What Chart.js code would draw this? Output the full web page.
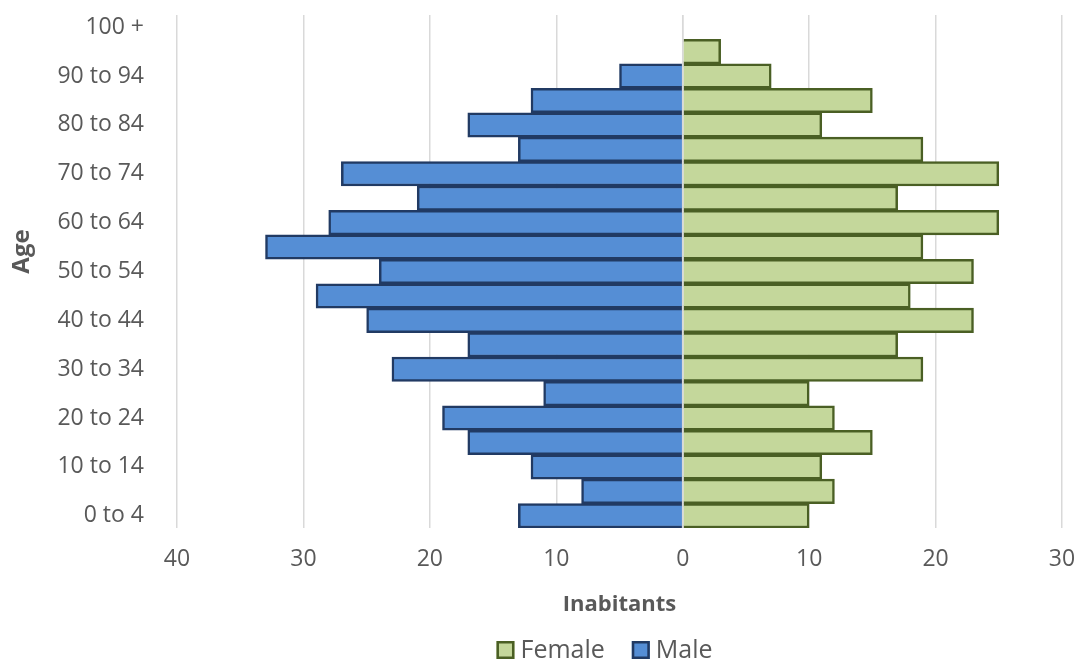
<!DOCTYPE html>
<html>
<head>
<meta charset="utf-8">
<script src="https://cdn.jsdelivr.net/npm/chart.js@4/dist/chart.umd.min.js"></script>
<style>
  html, body { margin: 0; padding: 0; background: #ffffff; }
  #wrap { width: 1076px; height: 660px; position: relative; }
</style>
</head>
<body>
<div id="wrap"><canvas id="pyramid"></canvas></div>
<script>
// Age groups, youngest first
const ageGroups = [
  '0 to 4', '5 to 9', '10 to 14', '15 to 19', '20 to 24', '25 to 29',
  '30 to 34', '35 to 39', '40 to 44', '45 to 49', '50 to 54', '55 to 59',
  '60 to 64', '65 to 69', '70 to 74', '75 to 79', '80 to 84', '85 to 89',
  '90 to 94', '95 to 99', '100 +'
];
// Inhabitants per age group
const femaleCounts = [10, 12, 11, 15, 12, 10, 19, 17, 23, 18, 23, 19, 25, 17, 25, 19, 11, 15, 7, 3, 0];
const maleCounts   = [13, 8, 12, 17, 19, 11, 23, 17, 25, 29, 24, 33, 28, 21, 27, 13, 17, 12, 5, 0, 0];
// Value axis ticks
const xTicks = [-40, -30, -20, -10, 0, 10, 20, 30];

const TEXT = '#595959';
const FONT = "'Open Sans', 'Liberation Sans', sans-serif";

// Thin light line along the zero value, drawn over the bars
const zeroLine = {
  id: 'zeroLine',
  afterDatasetsDraw(chart) {
    const x = chart.scales.x.getPixelForValue(0);
    const { top, bottom } = chart.chartArea;
    const ctx = chart.ctx;
    ctx.save();
    ctx.strokeStyle = '#d9d9d9';
    ctx.lineWidth = 1.5;
    ctx.beginPath();
    ctx.moveTo(x, top);
    ctx.lineTo(x, bottom);
    ctx.stroke();
    ctx.restore();
  }
};

// Rotated "Age" axis title, set a little above the middle of the plot
const ageTitle = {
  id: 'ageTitle',
  afterDraw(chart) {
    const ctx = chart.ctx;
    const { top, bottom } = chart.chartArea;
    ctx.save();
    ctx.translate(22, (top + bottom) / 2 - 20);
    ctx.rotate(-Math.PI / 2);
    ctx.font = "bold 24px " + FONT;
    ctx.fillStyle = TEXT;
    ctx.textAlign = 'center';
    ctx.textBaseline = 'middle';
    ctx.fillText('Age', 0, 0);
    ctx.restore();
  }
};

// Compact legend row under the axis title: square swatch, short gap, label
const bottomLegend = {
  id: 'bottomLegend',
  afterDraw(chart) {
    const ctx = chart.ctx;
    const box = 18, gap = 6, itemGap = 27;
    ctx.save();
    ctx.font = "25px " + FONT;
    ctx.textBaseline = 'middle';
    const items = chart.data.datasets.map(ds => ({
      ds, w: box + gap + ctx.measureText(ds.label).width
    }));
    const total = items.reduce((s, it) => s + it.w, 0) + itemGap * (items.length - 1);
    const cy = chart.height - 10;
    let x = (chart.chartArea.left + chart.chartArea.right) / 2 - 15 - total / 2;
    items.forEach(it => {
      ctx.fillStyle = it.ds.backgroundColor;
      ctx.strokeStyle = it.ds.borderColor;
      ctx.lineWidth = 2.5;
      ctx.fillRect(x, cy - box / 2, box, box);
      ctx.strokeRect(x + 1.25, cy - box / 2 + 1.25, box - 2.5, box - 2.5);
      ctx.fillStyle = TEXT;
      ctx.fillText(it.ds.label, x + box + gap, cy + 1);
      x += it.w + itemGap;
    });
    ctx.restore();
  }
};

new Chart(document.getElementById('pyramid'), {
  type: 'bar',
  data: {
    labels: ageGroups,
    datasets: [
      {
        label: 'Female',
        data: femaleCounts,
        backgroundColor: '#c4d79b',
        borderColor: '#4a5f24',
        borderWidth: 2.5,
        categoryPercentage: 1,
        barPercentage: 1
      },
      {
        label: 'Male',
        data: maleCounts.map(v => -v),
        backgroundColor: '#558ed5',
        borderColor: '#213a63',
        borderWidth: 2.5,
        categoryPercentage: 1,
        barPercentage: 1
      }
    ]
  },
  options: {
    indexAxis: 'y',
    responsive: true,
    maintainAspectRatio: false,
    animation: false,
    layout: { padding: { left: 44, right: 14, top: 15, bottom: 40 } },
    plugins: {
      tooltip: { enabled: false },
      legend: { display: false }
    },
    scales: {
      x: {
        stacked: true,
        min: -40,
        max: 30,
        afterBuildTicks(scale) {
          scale.ticks = xTicks.map(v => ({ value: v }));
        },
        afterFit(scale) {
          scale.height = 92;
          scale.paddingLeft = 0;
          scale.paddingRight = 0;
        },
        ticks: {
          color: TEXT,
          font: { family: FONT, size: 23 },
          padding: 18,
          callback: v => Math.abs(v)
        },
        grid: { color: '#d9d9d9', lineWidth: 1.5, drawTicks: false },
        border: { display: false },
        title: {
          display: true,
          text: 'Inabitants',
          color: TEXT,
          font: { family: FONT, size: 22, weight: 'bold' },
          padding: { top: 4, bottom: 2 }
        }
      },
      y: {
        stacked: true,
        reverse: true,
        afterFit(scale) {
          scale.width = 133;
          scale.paddingTop = 0;
          scale.paddingBottom = 0;
        },
        ticks: {
          autoSkip: false,
          color: TEXT,
          font: { family: FONT, size: 23 },
          padding: 25,
          callback(value, index) {
            return index % 2 === 0 ? ageGroups[index] : '';
          }
        },
        grid: { display: false },
        border: { display: false },
        title: { display: false }
      }
    }
  },
  plugins: [zeroLine, ageTitle, bottomLegend]
});
</script>
</body>
</html>
